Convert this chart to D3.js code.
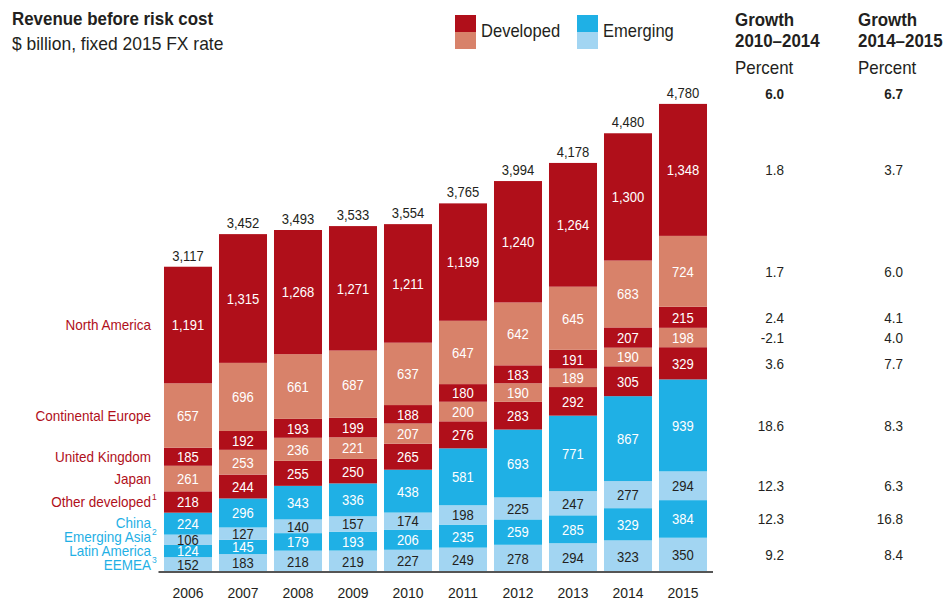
<!DOCTYPE html>
<html>
<head>
<meta charset="utf-8">
<script src="https://cdn.jsdelivr.net/npm/d3@7"></script>
<style>
  body { margin: 0; background: #fff; }
  svg text { font-family: "Liberation Sans", Arial, sans-serif; }
</style>
</head>
<body>
<script>
const years = [2006, 2007, 2008, 2009, 2010, 2011, 2012, 2013, 2014, 2015]
const totals = [3117, 3452, 3493, 3533, 3554, 3765, 3994, 4178, 4480, 4780]

// values per region, top of the stack first in the list below
const northAmerica = [1191, 1315, 1268, 1271, 1211, 1199, 1240, 1264, 1300, 1348]
const contEurope = [657, 696, 661, 687, 637, 647, 642, 645, 683, 724]
const unitedKingdom = [185, 192, 193, 199, 188, 180, 183, 191, 207, 215]
const japan = [261, 253, 236, 221, 207, 200, 190, 189, 190, 198]
const otherDeveloped = [218, 244, 255, 250, 265, 276, 283, 292, 305, 329]
const china = [224, 296, 343, 336, 438, 581, 693, 771, 867, 939]
const emergingAsia = [106, 127, 140, 157, 174, 198, 225, 247, 277, 294]
const latinAmerica = [124, 145, 179, 193, 206, 235, 259, 285, 329, 384]
const eemea = [152, 183, 218, 219, 227, 249, 278, 294, 323, 350]

const regionNames = ["North America", "Continental Europe", "United Kingdom", "Japan", "Other developed",
  "China", "Emerging Asia", "Latin America", "EEMEA"]
const footnotes = ["", "", "", "", "1", "", "2", "", "3"]
const growth1014 = ["1.8", "1.7", "2.4", "-2.1", "3.6", "18.6", "12.3", "12.3", "9.2"]
const growth1415 = ["3.7", "6.0", "4.1", "4.0", "7.7", "8.3", "6.3", "16.8", "8.4"]
const growthTotal = ["6.0", "6.7"]
const growthHeads = [["Growth", "2010–2014"], ["Growth", "2014–2015"]]

const w = 952
const h = 601
const darkRed = "#b00f1a"
const salmon = "#d8826a"
const blue = "#1fb0e5"
const lightBlue = "#a2d5f2"
const ink = "#231f20"

const regionValues = [northAmerica, contEurope, unitedKingdom, japan, otherDeveloped, china, emergingAsia, latinAmerica, eemea]
const regionColors = [darkRed, salmon, darkRed, salmon, darkRed, blue, lightBlue, blue, lightBlue]
const isDeveloped = [true, true, true, true, true, false, false, false, false]

// narrow the default font a bit, the original uses a condensed face
function squeeze(sel, s) {
  sel.each(function () {
    const t = d3.select(this)
    const x = +t.attr("x") || 0
    t.attr("transform", "translate(" + x + ",0) scale(" + s + ",1) translate(" + (-x) + ",0)")
  })
}

// build rows for d3.stack
const rows = years.map((y, i) => {
  let r = { year: y }
  regionNames.forEach((n, k) => { r[n] = regionValues[k][i] })
  return r
})
const stackKeys = regionNames.slice().reverse()
const series = d3.stack().keys(stackKeys)(rows)

const svg = d3.select("body").append("svg")
  .attr("width", w)
  .attr("height", h)

const xScale = d3.scaleBand()
  .domain(years)
  .range([160.5, 710.5])
  .paddingInner(0.127)
  .paddingOuter(0.0635)

const yScale = d3.scaleLinear()
  .domain([0, 4780])
  .range([572, 104])

const colorOf = name => regionColors[regionNames.indexOf(name)]

// bars
const layers = svg.selectAll("g.layer")
  .data(series)
  .enter()
  .append("g")
  .attr("class", "layer")
  .attr("fill", d => colorOf(d.key))

layers.selectAll("rect")
  .data(d => d)
  .enter()
  .append("rect")
  .attr("x", d => xScale(d.data.year))
  .attr("y", d => yScale(d[1]))
  .attr("width", xScale.bandwidth())
  .attr("height", d => yScale(d[0]) - yScale(d[1]))

layers.selectAll("text")
  .data(d => d.map(p => ({ p: p, key: d.key })))
  .enter()
  .append("text")
  .attr("class", "val")
  .attr("x", d => xScale(d.p.data.year) + xScale.bandwidth() / 2)
  .attr("y", d => (yScale(d.p[0]) + yScale(d.p[1])) / 2)
  .attr("dy", "0.36em")
  .attr("text-anchor", "middle")
  .style("font-size", "15px")
  .attr("fill", d => colorOf(d.key) == lightBlue ? ink : "#fff")
  .text(d => d3.format(",")(d.p[1] - d.p[0]))
squeeze(svg.selectAll("text.val"), 0.87)

// totals
svg.selectAll("text.total")
  .data(years)
  .enter()
  .append("text")
  .attr("class", "total")
  .attr("x", d => xScale(d) + xScale.bandwidth() / 2)
  .attr("y", (d, i) => yScale(totals[i]) - 6)
  .attr("text-anchor", "middle")
  .style("font-size", "15px")
  .attr("fill", ink)
  .text((d, i) => d3.format(",")(totals[i]))
squeeze(svg.selectAll("text.total"), 0.87)

// x axis
const xAxis = d3.axisBottom(xScale).tickSize(0).tickPadding(15)
const gx = svg.append("g")
  .attr("transform", "translate(0,572)")
  .call(xAxis)
gx.select(".domain").attr("stroke", "#555").attr("stroke-width", 2)
  .attr("d", "M158.5,0H713")
gx.selectAll("text").style("font-size", "15px").attr("fill", ink)
  .attr("font-family", null)
squeeze(gx.selectAll("text"), 0.93)

// region labels at the 2006 segment centres, nudged up where they would collide
const centreOf = (k, i) => {
  const s = series.find(d => d.key == regionNames[k])[i]
  return (yScale(s[0]) + yScale(s[1])) / 2
}
const labelY = regionNames.map((n, k) => centreOf(k, 0))
for (let k = labelY.length - 2; k >= 0; k--) {
  labelY[k] = Math.min(labelY[k], labelY[k + 1] - 14)
}
regionNames.forEach((n, k) => {
  const col = isDeveloped[k] ? darkRed : blue
  svg.append("text")
    .attr("class", "region")
    .attr("x", 151)
    .attr("y", labelY[k])
    .attr("dy", "0.36em")
    .attr("text-anchor", "end")
    .style("font-size", "15px")
    .attr("fill", col)
    .text(n)
  if (footnotes[k] != "") {
    svg.append("text")
      .attr("x", 152)
      .attr("y", labelY[k] - 2)
      .style("font-size", "8.5px")
      .attr("fill", col)
      .text(footnotes[k])
  }
})
squeeze(svg.selectAll("text.region"), 0.9)

// growth columns at the 2015 segment centres
const last = years.length - 1
const colX = [784, 903]
const headX = [735, 858]
;[growth1014, growth1415].forEach((vals, c) => {
  svg.append("text").attr("class", "head").attr("x", headX[c]).attr("y", 26)
    .style("font-size", "18px").style("font-weight", "bold").attr("fill", ink)
    .text(growthHeads[c][0])
  svg.append("text").attr("class", "head").attr("x", headX[c]).attr("y", 47)
    .style("font-size", "18px").style("font-weight", "bold").attr("fill", ink)
    .text(growthHeads[c][1])
  svg.append("text").attr("class", "head").attr("x", headX[c]).attr("y", 74)
    .style("font-size", "18px").attr("fill", ink)
    .text("Percent")
  svg.append("text").attr("class", "gv").attr("x", colX[c]).attr("y", 99)
    .attr("text-anchor", "end")
    .style("font-size", "15px").style("font-weight", "bold").attr("fill", ink)
    .text(growthTotal[c])
  svg.selectAll("text.g" + c)
    .data(vals)
    .enter()
    .append("text")
    .attr("class", "g" + c + " gv")
    .attr("x", colX[c])
    .attr("y", (d, k) => centreOf(k, last))
    .attr("dy", "0.36em")
    .attr("text-anchor", "end")
    .style("font-size", "15px")
    .attr("fill", ink)
    .text(d => d)
})
squeeze(svg.selectAll("text.head"), 0.94)
squeeze(svg.selectAll("text.gv"), 0.9)

// title
svg.append("text").attr("class", "title").attr("x", 12).attr("y", 25)
  .style("font-size", "18px").style("font-weight", "bold").attr("fill", ink)
  .text("Revenue before risk cost")
svg.append("text").attr("class", "sub").attr("x", 12).attr("y", 50)
  .style("font-size", "18px").attr("fill", ink)
  .text("$ billion, fixed 2015 FX rate")
squeeze(svg.selectAll("text.title"), 0.94)
squeeze(svg.selectAll("text.sub"), 0.97)

// legend
const legendKeys = ["Developed", "Emerging"]
const legendX = [455, 577]
const legendCols = [[darkRed, salmon], [blue, lightBlue]]
legendKeys.forEach((k, i) => {
  svg.append("rect").attr("x", legendX[i]).attr("y", 15).attr("width", 21).attr("height", 17)
    .attr("fill", legendCols[i][0])
  svg.append("rect").attr("x", legendX[i]).attr("y", 32).attr("width", 21).attr("height", 17)
    .attr("fill", legendCols[i][1])
  svg.append("text").attr("class", "leg").attr("x", legendX[i] + 26).attr("y", 37)
    .style("font-size", "18px").attr("fill", ink)
    .text(k)
})
squeeze(svg.selectAll("text.leg"), 0.92)
</script>
</body>
</html>
